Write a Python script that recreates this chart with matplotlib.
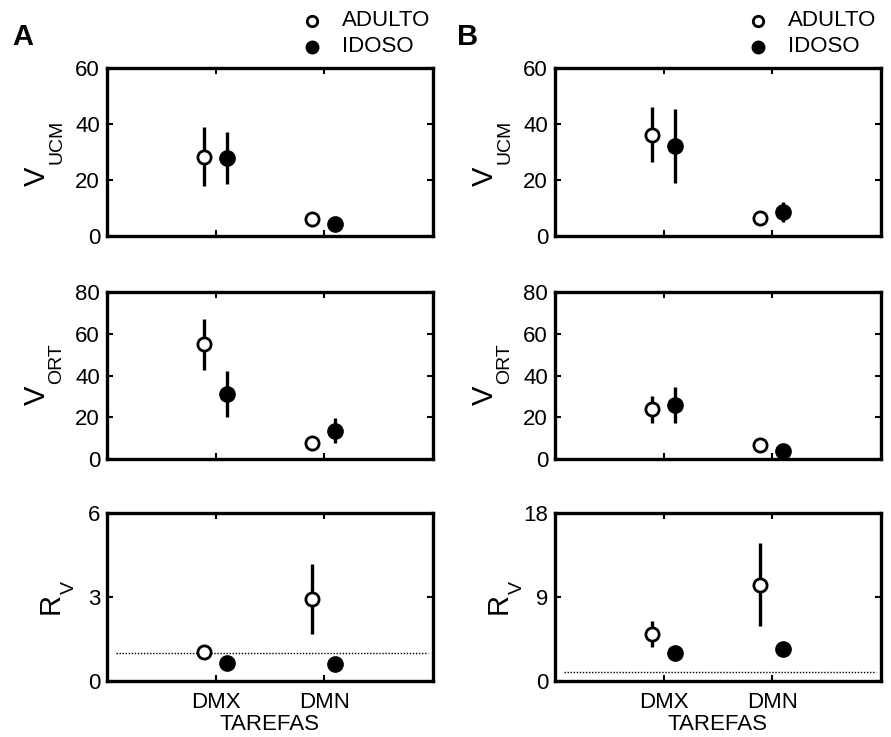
import matplotlib
matplotlib.use("Agg")
import matplotlib.pyplot as plt
import numpy as np

plt.rcParams['font.family'] = ['Liberation Sans', 'DejaVu Sans']

tasks = ["DMX", "DMN"]
groups = ["ADULTO", "IDOSO"]

# Panel A
A_vucm_adulto = [28.3, 6.2]
A_vucm_adulto_err = [10.5, 0.0]
A_vucm_idoso = [28.0, 4.2]
A_vucm_idoso_err = [9.3, 0.0]
A_vort_adulto = [55.0, 7.5]
A_vort_adulto_err = [12.2, 0.0]
A_vort_idoso = [31.0, 13.5]
A_vort_idoso_err = [11.0, 6.0]
A_rv_adulto = [1.03, 2.92]
A_rv_adulto_err = [0.0, 1.25]
A_rv_idoso = [0.65, 0.60]
A_rv_idoso_err = [0.0, 0.0]

# Panel B
B_vucm_adulto = [36.2, 6.4]
B_vucm_adulto_err = [9.7, 0.0]
B_vucm_idoso = [32.2, 8.5]
B_vucm_idoso_err = [13.3, 3.6]
B_vort_adulto = [23.8, 6.9]
B_vort_adulto_err = [6.5, 0.0]
B_vort_idoso = [26.0, 4.0]
B_vort_idoso_err = [8.7, 0.0]
B_rv_adulto = [5.0, 10.3]
B_rv_adulto_err = [1.4, 4.45]
B_rv_idoso = [3.0, 3.4]
B_rv_idoso_err = [0.0, 0.0]

ref_line = 1.0

ylims_A = [(0, 60), (0, 80), (0, 6)]
yticks_A = [[0, 20, 40, 60], [0, 20, 40, 60, 80], [0, 3, 6]]
ylims_B = [(0, 60), (0, 80), (0, 18)]
yticks_B = [[0, 20, 40, 60], [0, 20, 40, 60, 80], [0, 9, 18]]
ylabel_main = ["V", "V", "R"]
ylabel_sub = ["UCM", "ORT", "V"]

W, H = 891, 737
fig = plt.figure(figsize=(W / 100, H / 100), dpi=100)

rows_px = [(68, 236), (292, 459), (513, 681)]
cols_px = [(107, 433), (555, 881)]
# label anchor positions (px): main centre, subscript centre
lab_main_px = [(37, 176), (37, 395), (51, 603)]
lab_sub_px = [(57, 142), (57, 364), (69, 588)]

xpos = np.array([1, 2])
off_a, off_i = -0.11, 0.10
FS = 16

panels = {
    0: [(A_vucm_adulto, A_vucm_adulto_err, A_vucm_idoso, A_vucm_idoso_err),
        (A_vort_adulto, A_vort_adulto_err, A_vort_idoso, A_vort_idoso_err),
        (A_rv_adulto, A_rv_adulto_err, A_rv_idoso, A_rv_idoso_err)],
    1: [(B_vucm_adulto, B_vucm_adulto_err, B_vucm_idoso, B_vucm_idoso_err),
        (B_vort_adulto, B_vort_adulto_err, B_vort_idoso, B_vort_idoso_err),
        (B_rv_adulto, B_rv_adulto_err, B_rv_idoso, B_rv_idoso_err)],
}

for c, (x0, x1) in enumerate(cols_px):
    ylims = ylims_A if c == 0 else ylims_B
    yticks = yticks_A if c == 0 else yticks_B
    dx = x0 - cols_px[0][0]
    for r, (y0, y1) in enumerate(rows_px):
        ax = fig.add_axes([x0 / W, 1 - y1 / H, (x1 - x0) / W, (y1 - y0) / H])
        ya, ea, yi, ei = panels[c][r]
        ax.errorbar(xpos + off_a, ya, yerr=ea, fmt='o', color='black', ecolor='black',
                    elinewidth=2.4, capsize=0, markersize=9.5, markerfacecolor='white',
                    markeredgecolor='black', markeredgewidth=2.0, zorder=3)
        ax.errorbar(xpos + off_i, yi, yerr=ei, fmt='o', color='black', ecolor='black',
                    elinewidth=2.4, capsize=0, markersize=11, markerfacecolor='black',
                    markeredgecolor='black', markeredgewidth=1.0, zorder=3)
        if r == 2:
            ax.hlines(ref_line, 0.08, 2.95, colors='black', linestyles=(0, (1, 1.2)),
                      linewidth=1.0, zorder=2)
        ax.set_xlim(0, 3)
        ax.set_ylim(*ylims[r])
        ax.set_yticks(yticks[r])
        ax.set_xticks(xpos)
        if r == 2:
            ax.set_xticklabels(tasks, fontsize=FS)
            ax.set_xlabel('TAREFAS', fontsize=FS, labelpad=1)
            ax.tick_params(axis='x', pad=8)
        else:
            ax.set_xticklabels([])
        ax.tick_params(direction='in', length=4, width=1.5, top=True, right=True,
                       labelsize=FS)
        ax.tick_params(axis='y', pad=5)
        for s in ax.spines.values():
            s.set_linewidth(2.4)
        ax.patch.set_alpha(0)
        mx, my = lab_main_px[r]
        sx, sy = lab_sub_px[r]
        fig.text((mx + dx) / W, 1 - my / H, ylabel_main[r], fontsize=21, rotation=90,
                 ha='center', va='center')
        fig.text((sx + dx) / W, 1 - sy / H, ylabel_sub[r], fontsize=14, rotation=90,
                 ha='center', va='center')

# Panel letters
fig.text(12 / W, 1 - 37 / H, 'A', fontsize=21, fontweight='bold', va='center', ha='left')
fig.text(457 / W, 1 - 37 / H, 'B', fontsize=21, fontweight='bold', va='center', ha='left')

# Legends
for lx in [312, 758]:
    fig.lines.append(plt.Line2D([lx / W], [1 - 21 / H], marker='o', markersize=7.5,
                                markerfacecolor='white', markeredgecolor='black',
                                markeredgewidth=2.0, transform=fig.transFigure))
    fig.lines.append(plt.Line2D([lx / W], [1 - 47 / H], marker='o', markersize=9,
                                markerfacecolor='black', markeredgecolor='black',
                                transform=fig.transFigure))
    fig.text((lx + 30) / W, 1 - 21 / H, groups[0], fontsize=FS, va='center', ha='left')
    fig.text((lx + 30) / W, 1 - 47 / H, groups[1], fontsize=FS, va='center', ha='left')

fig.savefig('out.png', dpi=100)
